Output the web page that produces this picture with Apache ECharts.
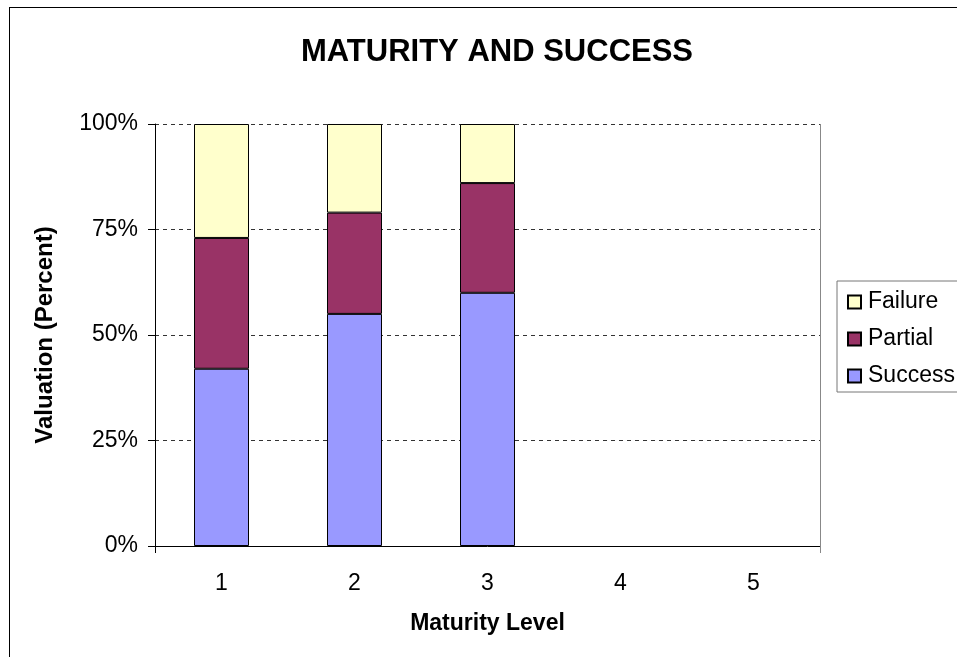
<!DOCTYPE html>
<html>
<head>
<meta charset="utf-8">
<script src="https://cdn.jsdelivr.net/npm/echarts@6/dist/echarts.min.js"></script>
<style>
html,body{margin:0;padding:0;background:#fff;overflow:hidden;}
#chart{position:absolute;left:0;top:0;width:957px;height:657px;}
#frame{position:absolute;left:9px;top:7px;width:1000px;height:700px;border:1px solid #000;pointer-events:none;}
</style>
</head>
<body>
<div id="chart"></div>
<div id="frame"></div>
<script>
var categories = ['1','2','3','4','5'];
var success = [42, 55, 60, null, null];
var partial = [31, 24, 26, null, null];
var failure = [27, 21, 14, null, null];
var yTicks = [0, 25, 50, 75, 100];

var FONT = "'Liberation Sans', Arial, sans-serif";
var chart = echarts.init(document.getElementById('chart'), null, {renderer:'canvas'});
var barStyle = function(color){
  return {color: color, borderColor: '#000', borderWidth: 1};
};
chart.setOption({
  animation: false,
  backgroundColor: '#fff',
  title: {
    text: 'MATURITY AND SUCCESS',
    left: 492, top: 32, textAlign: 'center',
    textStyle: {fontFamily: FONT, fontSize: 31, fontWeight: 'bold', color: '#000'}
  },
  legend: {
    orient: 'vertical',
    left: 837, top: 281,
    data: ['Failure', 'Partial', 'Success'],
    borderColor: '#777', borderWidth: 1,
    padding: [8, 20, 3, 10],
    itemWidth: 13, itemHeight: 13, itemGap: 11,
    icon: 'rect',
    textStyle: {fontFamily: FONT, fontSize: 23, color: '#000', lineHeight: 26, padding: [0, 0, 0, 2]}
  },
  grid: {left: 155, right: 137, top: 124, bottom: 111, containLabel: false},
  xAxis: {
    type: 'category',
    data: categories,
    name: 'Maturity Level',
    nameLocation: 'middle',
    nameGap: 66,
    nameTextStyle: {fontFamily: FONT, fontSize: 23, fontWeight: 'bold', color: '#000'},
    axisLine: {lineStyle: {color: '#000', width: 1}},
    axisTick: {show: false},
    axisLabel: {fontFamily: FONT, fontSize: 23, color: '#000', margin: 26}
  },
  yAxis: {
    type: 'value',
    min: yTicks[0], max: yTicks[yTicks.length-1], interval: 25,
    name: 'Valuation (Percent)',
    nameLocation: 'middle',
    nameGap: 98,
    nameTextStyle: {fontFamily: FONT, fontSize: 24, fontWeight: 'bold', color: '#000'},
    axisLine: {show: true, lineStyle: {color: '#000', width: 1}},
    axisTick: {show: true, length: 7, lineStyle: {color: '#000'}},
    axisLabel: {fontFamily: FONT, fontSize: 23, color: '#000', margin: 17,
      formatter: function(v){ return v + '%'; }},
    splitLine: {show: true, lineStyle: {color: '#333', type: [4, 4], width: 1}}
  },
  graphic: [{
    type: 'line',
    shape: {x1: 820.5, y1: 124, x2: 820.5, y2: 553},
    style: {stroke: '#888', lineWidth: 1},
    z: 1
  }, {
    type: 'line',
    shape: {x1: 155.5, y1: 546, x2: 155.5, y2: 553},
    style: {stroke: '#000', lineWidth: 1},
    z: 1
  }],
  series: [
    {name: 'Success', type: 'bar', stack: 'all', data: success, barWidth: 55, itemStyle: barStyle('#9999FF')},
    {name: 'Partial', type: 'bar', stack: 'all', data: partial, barWidth: 55, itemStyle: barStyle('#993366')},
    {name: 'Failure', type: 'bar', stack: 'all', data: failure, barWidth: 55, itemStyle: barStyle('#FFFFCC')}
  ]
});
</script>
</body>
</html>
